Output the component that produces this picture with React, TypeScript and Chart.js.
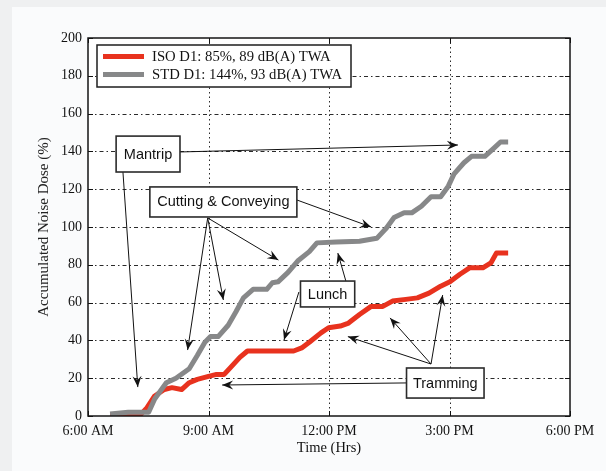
import React, { useEffect, useRef } from "react";
import { Chart, registerables } from "chart.js";

Chart.register(...registerables);

// ---- data ----
const tickHours = [6, 9, 12, 15, 18];
const tickLabels = ["6:00 AM", "9:00 AM", "12:00 PM", "3:00 PM", "6:00 PM"];
const doseTicks = [0, 20, 40, 60, 80, 100, 120, 140, 160, 180, 200];

const seriesLabels = ["ISO D1: 85%, 89 dB(A) TWA", "STD D1: 144%, 93 dB(A) TWA"];

const isoHours = [6.55, 7.0, 7.32, 7.47, 7.66, 7.9, 8.09, 8.33, 8.52, 8.72, 9.0, 9.2, 9.39, 9.58, 9.78, 9.97, 10.55, 11.12, 11.32, 11.51, 11.8, 11.99, 12.28, 12.47, 12.76, 13.05, 13.34, 13.58, 13.91, 14.2, 14.49, 14.78, 15.01, 15.26, 15.5, 15.83, 16.03, 16.17, 16.46];
const isoDose = [0.5, 1, 1, 4.4, 10.6, 14, 15, 14, 17.6, 19.4, 21, 22, 22, 26.4, 31, 34.4, 34.4, 34.4, 36, 39, 44, 46.7, 47.6, 49, 53.7, 58, 58, 60.8, 61.7, 62.5, 65, 68.7, 71, 75, 78.4, 78.4, 81, 86.3, 86.3];

const stdHours = [6.55, 7.0, 7.51, 7.66, 7.95, 8.19, 8.52, 8.72, 8.91, 9.05, 9.24, 9.49, 9.68, 9.87, 10.11, 10.45, 10.59, 10.73, 10.98, 11.22, 11.51, 11.7, 12.18, 12.76, 13.19, 13.43, 13.62, 13.87, 14.06, 14.3, 14.54, 14.78, 14.97, 15.11, 15.36, 15.55, 15.88, 16.12, 16.27, 16.46];
const stdDose = [1, 2, 2, 9, 17.6, 20, 25, 32, 39, 42, 42, 48, 55, 62.5, 67, 67, 70.5, 71, 76, 82, 87, 91.6, 92, 92.5, 94, 99.5, 105, 107.5, 107.5, 111, 116, 116, 121.6, 128, 134, 137.4, 137.4, 142, 145, 145];

// annotation callouts (in data units: hours, dose %)
const notes = [
  {
    text: "Mantrip",
    box: [6.7, 148.1, 8.29, 129.1],
    arrows: [
      [8.29, 139.7, 15.21, 143.4],
      [6.87, 129.1, 7.24, 15.3],
    ],
  },
  {
    text: "Cutting & Conveying",
    box: [7.54, 121.2, 11.2, 105.3],
    arrows: [
      [8.98, 104.8, 8.48, 34.9],
      [8.98, 104.8, 9.37, 61.4],
      [8.98, 104.8, 10.74, 82.5],
      [11.2, 114.3, 13.05, 100.0],
    ],
  },
  {
    text: "Lunch",
    box: [11.29, 71.4, 12.64, 57.7],
    arrows: [
      [12.42, 71.4, 12.22, 86.2],
      [11.25, 65.6, 10.88, 40.2],
    ],
  },
  {
    text: "Tramming",
    box: [13.93, 25.4, 15.86, 9.5],
    arrows: [
      [14.54, 27.5, 12.47, 42.0],
      [14.54, 27.5, 13.52, 51.9],
      [14.54, 27.5, 14.83, 64.0],
      [13.93, 17.5, 9.34, 16.4],
    ],
  },
];

const SERIF = "'Liberation Serif', 'Times New Roman', serif";
const SANS = "'Liberation Sans', Arial, sans-serif";
const INK = "#121212";

function drawArrow(ctx: CanvasRenderingContext2D, x0: number, y0: number, x1: number, y1: number) {
  ctx.beginPath();
  ctx.moveTo(x0, y0);
  ctx.lineTo(x1, y1);
  ctx.stroke();
  const a = Math.atan2(y1 - y0, x1 - x0);
  const L = 11;
  const W = 4.5;
  const c = Math.cos(a);
  const s = Math.sin(a);
  ctx.beginPath();
  ctx.moveTo(x1, y1);
  ctx.lineTo(x1 - L * c + W * s, y1 - L * s - W * c);
  ctx.lineTo(x1 - 0.65 * L * c, y1 - 0.65 * L * s);
  ctx.lineTo(x1 - L * c - W * s, y1 - L * s + W * c);
  ctx.closePath();
  ctx.fill();
}

const bgPlugin = {
  id: "bgPanel",
  beforeDraw(chart: any) {
    const { ctx, width, height, chartArea } = chart;
    ctx.save();
    ctx.fillStyle = "#eff0f1";
    ctx.fillRect(0, 0, width, height);
    ctx.fillStyle = "#fafbfc";
    ctx.fillRect(12, 7, width - 12, height - 7);
    ctx.fillStyle = "#ffffff";
    ctx.fillRect(chartArea.left, chartArea.top, chartArea.right - chartArea.left, chartArea.bottom - chartArea.top);
    ctx.restore();
  },
};

const gridPlugin = {
  id: "matlabGrid",
  beforeDatasetsDraw(chart: any) {
    const { ctx, chartArea: a, scales } = chart;
    const xs = scales.x;
    const ys = scales.y;
    ctx.save();
    ctx.strokeStyle = "#2a2a2a";
    ctx.lineWidth = 1;
    ctx.setLineDash([1.5, 3]);
    tickHours.slice(1, -1).forEach((h) => {
      const x = Math.round(xs.getPixelForValue(h)) + 0.5;
      ctx.beginPath();
      ctx.moveTo(x, a.top);
      ctx.lineTo(x, a.bottom);
      ctx.stroke();
    });
    ctx.setLineDash([4, 3, 1.5, 3]);
    doseTicks.slice(1, -1).forEach((d) => {
      const y = Math.round(ys.getPixelForValue(d)) + 0.5;
      ctx.beginPath();
      ctx.moveTo(a.left, y);
      ctx.lineTo(a.right, y);
      ctx.stroke();
    });
    ctx.setLineDash([]);
    ctx.lineWidth = 1;
    ctx.strokeStyle = "#111";
    tickHours.forEach((h) => {
      const x = Math.round(xs.getPixelForValue(h)) + 0.5;
      ctx.beginPath();
      ctx.moveTo(x, a.bottom);
      ctx.lineTo(x, a.bottom - 5);
      ctx.moveTo(x, a.top);
      ctx.lineTo(x, a.top + 5);
      ctx.stroke();
    });
    doseTicks.forEach((d) => {
      const y = Math.round(ys.getPixelForValue(d)) + 0.5;
      ctx.beginPath();
      ctx.moveTo(a.left, y);
      ctx.lineTo(a.left + 5, y);
      ctx.moveTo(a.right, y);
      ctx.lineTo(a.right - 5, y);
      ctx.stroke();
    });
    ctx.restore();
  },
  afterDatasetsDraw(chart: any) {
    const { ctx, chartArea: a, scales } = chart;
    const xs = scales.x;
    const ys = scales.y;
    const px = (h: number) => xs.getPixelForValue(h);
    const py = (d: number) => ys.getPixelForValue(d);
    ctx.save();

    ctx.strokeStyle = "#151515";
    ctx.lineWidth = 1.5;
    ctx.strokeRect(a.left, a.top, a.right - a.left, a.bottom - a.top);

    ctx.lineWidth = 1;
    ctx.strokeStyle = INK;
    ctx.fillStyle = INK;
    notes.forEach((n) => {
      n.arrows.forEach((ar) => drawArrow(ctx, px(ar[0]), py(ar[1]), px(ar[2]), py(ar[3])));
    });
    notes.forEach((n) => {
      const x0 = px(n.box[0]);
      const y0 = py(n.box[1]);
      const x1 = px(n.box[2]);
      const y1 = py(n.box[3]);
      ctx.fillStyle = "#ffffff";
      ctx.fillRect(x0, y0, x1 - x0, y1 - y0);
      ctx.strokeStyle = "#2b2b2b";
      ctx.lineWidth = 1.6;
      ctx.strokeRect(x0, y0, x1 - x0, y1 - y0);
      ctx.fillStyle = INK;
      ctx.font = `14.5px ${SANS}`;
      ctx.textAlign = "center";
      ctx.textBaseline = "middle";
      ctx.fillText(n.text, (x0 + x1) / 2, (y0 + y1) / 2 + 0.5);
    });

    const lx = a.left + 9;
    const ly = a.top + 7;
    const lw = 254;
    const lh = 42;
    ctx.fillStyle = "#ffffff";
    ctx.fillRect(lx, ly, lw, lh);
    ctx.strokeStyle = "#1e1e1e";
    ctx.lineWidth = 1.5;
    ctx.strokeRect(lx, ly, lw, lh);
    chart.data.datasets.forEach((ds: any, i: number) => {
      const yy = ly + 11.5 + i * 18;
      ctx.strokeStyle = ds.borderColor;
      ctx.lineWidth = 5;
      ctx.beginPath();
      ctx.moveTo(lx + 6, yy);
      ctx.lineTo(lx + 47, yy);
      ctx.stroke();
      ctx.fillStyle = INK;
      ctx.font = `14.7px ${SERIF}`;
      ctx.textAlign = "left";
      ctx.textBaseline = "middle";
      ctx.fillText(ds.label, lx + 55, yy + 0.5);
    });
    ctx.restore();
  },
};

export default function App() {
  const ref = useRef<HTMLCanvasElement | null>(null);

  useEffect(() => {
    if (!ref.current) return;
    const chart = new Chart(ref.current, {
      type: "line",
      data: {
        datasets: [
          {
            label: seriesLabels[0],
            data: isoHours.map((h, i) => ({ x: h, y: isoDose[i] })),
            borderColor: "#e8321e",
            borderWidth: 5,
            pointRadius: 0,
            tension: 0,
            borderJoinStyle: "round",
            order: 1,
          },
          {
            label: seriesLabels[1],
            data: stdHours.map((h, i) => ({ x: h, y: stdDose[i] })),
            borderColor: "#878889",
            borderWidth: 5,
            pointRadius: 0,
            tension: 0,
            borderJoinStyle: "round",
            order: 0,
          },
        ],
      },
      options: {
        responsive: false,
        animation: false,
        devicePixelRatio: 1,
        layout: { padding: { left: 30, right: 36, top: 38, bottom: 10 } },
        plugins: {
          legend: { display: false },
          tooltip: { enabled: false },
        },
        scales: {
          x: {
            type: "linear",
            min: 6,
            max: 18,
            afterBuildTicks: (scale: any) => {
              scale.ticks = tickHours.map((v) => ({ value: v }));
            },
            afterFit: (scale: any) => {
              scale.height = 45;
            },
            grid: { display: false, drawTicks: false },
            border: { display: false },
            ticks: {
              padding: 7,
              maxRotation: 0,
              autoSkip: false,
              color: INK,
              font: { family: SERIF, size: 14 },
              callback: (v: any) => tickLabels[tickHours.indexOf(Number(v))] ?? "",
            },
            title: {
              display: true,
              text: "Time (Hrs)",
              color: INK,
              font: { family: SERIF, size: 14.5 },
              padding: { top: 0, bottom: 4 },
            },
          },
          y: {
            type: "linear",
            min: 0,
            max: 200,
            afterBuildTicks: (scale: any) => {
              scale.ticks = doseTicks.map((v) => ({ value: v }));
            },
            afterFit: (scale: any) => {
              scale.width = 58;
            },
            grid: { display: false, drawTicks: false },
            border: { display: false },
            ticks: {
              padding: 6,
              autoSkip: false,
              color: INK,
              font: { family: SERIF, size: 14 },
            },
            title: {
              display: true,
              text: "Accumulated Noise Dose (%)",
              color: "#222",
              font: { family: SERIF, size: 15 },
              padding: { top: 5, bottom: 0 },
            },
          },
        },
      },
      plugins: [bgPlugin, gridPlugin],
    } as any);
    return () => chart.destroy();
  }, []);

  return (
    <div style={{ position: "fixed", left: 0, top: 0, width: 606, height: 471 }}>
      <canvas ref={ref} width={606} height={471} style={{ display: "block" }} />
    </div>
  );
}
